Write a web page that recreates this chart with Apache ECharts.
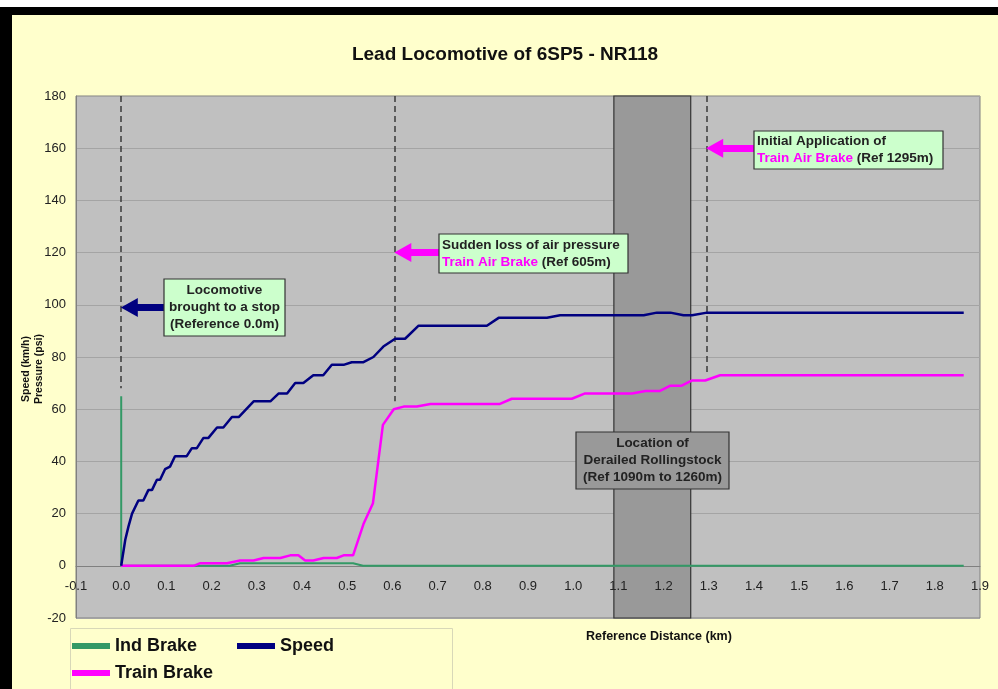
<!DOCTYPE html>
<html><head><meta charset="utf-8">
<script src="https://cdn.jsdelivr.net/npm/echarts@6/dist/echarts.min.js"></script>
<style>html,body{margin:0;padding:0;background:#ffffcc;}#c{width:998px;height:689px;}</style>
</head><body><div id="c"></div>
<script>
// ---- Data ----
const titleText = 'Lead Locomotive of 6SP5 - NR118';
const yAxisName = 'Speed (km/h)\nPressure (psi)';
const xAxisName = 'Reference Distance (km)';
const xTicks = [-0.1,0.0,0.1,0.2,0.3,0.4,0.5,0.6,0.7,0.8,0.9,1.0,1.1,1.2,1.3,1.4,1.5,1.6,1.7,1.8,1.9];
const yTicks = [-20,0,20,40,60,80,100,120,140,160,180];

const speedDist = [0,0.009,0.016,0.024,0.038,0.049,0.06,0.068,0.079,0.086,0.097,0.108,0.119,0.145,0.156,0.167,0.182,0.193,0.212,0.226,0.245,0.26,0.293,0.33,0.348,0.367,0.385,0.403,0.425,0.447,0.466,0.492,0.51,0.536,0.558,0.58,0.606,0.628,0.658,0.809,0.835,0.942,0.971,1.156,1.185,1.215,1.244,1.263,1.296,1.864];
const speedVal  = [0,10,15,20,25,25,29,29,33,33,37,38,42,42,45,45,49,49,53,53,57,57,63,63,66,66,70,70,73,73,77,77,78,78,80,84,87,87,92,92,95,95,96,96,97,97,96,96,97,97];

const trainDist = [0,0.16,0.175,0.234,0.263,0.293,0.315,0.352,0.374,0.392,0.407,0.425,0.448,0.477,0.492,0.513,0.536,0.557,0.579,0.603,0.625,0.654,0.684,0.838,0.864,0.997,1.025,1.13,1.16,1.192,1.215,1.24,1.263,1.292,1.325,1.864];
const trainVal  = [0,0,1,1,2,2,3,3,4,4,2,2,3,3,4,4,16,24,54,60,61,61,62,62,64,64,66,66,67,67,69,69,71,71,73,73];

const indDist = [0,0,0.24,0.263,0.513,0.535,1.864];
const indVal  = [65,0,0,1,1,0,0];

const seriesNames = ['Ind Brake','Speed','Train Brake'];
const bandRange = [1.09, 1.26];             // derailed rollingstock
const refLines = [[0, 68], [0.605, 63], [1.295, 74]]; // x, bottom of dashed line
const arrows = [ // from (box edge) -> to (dashed line), at y
  {from:0.095, to:0.0, y:99, color:'#000080'},
  {from:0.703, to:0.605, y:120, color:'#ff00ff'},
  {from:1.40, to:1.295, y:160, color:'#ff00ff'}
];

const zip = (a,b) => a.map((v,i)=>[v,b[i]]);

const chart = echarts.init(document.getElementById('c'));
const FONT = '"Liberation Sans", Arial, sans-serif';
const legendText = {fontFamily: FONT, fontSize: 18, fontWeight: 'bold', color: '#111'};

const option = {
  backgroundColor: '#ffffcc',
  animation: false,
  title: [
    {text: titleText, left: 500, top: 40, textAlign: 'center',
     textStyle: {fontFamily: FONT, fontSize: 19, fontWeight: 'bold', color: '#111'}},
    {text: xAxisName, left: 581, top: 625,
     textStyle: {fontFamily: FONT, fontSize: 12.5, fontWeight: 'bold', color: '#111'}}
  ],
  grid: {left: 76, right: 18, top: 96, bottom: 71, show: true, containLabel: false, outerBoundsMode: 'none',
         backgroundColor: '#c0c0c0', borderColor: '#808080', borderWidth: 1},
  legend: [
    {data: [seriesNames[0], seriesNames[2]], orient: 'vertical', left: 72, top: 637, padding: 0,
     icon: 'rect', itemWidth: 38, itemHeight: 6, itemGap: 9, textStyle: legendText},
    {data: [seriesNames[1]], orient: 'vertical', left: 237, top: 637, padding: 0,
     icon: 'rect', itemWidth: 38, itemHeight: 6, itemGap: 9, textStyle: legendText}
  ],
  xAxis: {
    type: 'value', min: xTicks[0], max: xTicks[xTicks.length-1], interval: 0.1, z: 10,
    axisLine: {onZero: true, lineStyle: {color: '#808080'}},
    axisTick: {show: false}, splitLine: {show: false},
    axisLabel: {margin: -38, fontFamily: FONT, fontSize: 13, color: '#222',
                showMinLabel: true, showMaxLabel: true, formatter: v => v.toFixed(1)}
  },
  yAxis: {
    type: 'value', min: yTicks[0], max: yTicks[yTicks.length-1], interval: 20,
    axisLine: {show: true, onZero: false, lineStyle: {color: '#808080'}}, axisTick: {show: false},
    splitLine: {lineStyle: {color: '#a4a4a4', width: 1}},
    axisLabel: {margin: 10, fontFamily: FONT, fontSize: 13, color: '#222'}
  },
  series: [
    {name: 'band', type: 'line', data: [], z: 1, silent: true,
     markArea: {silent: true, itemStyle: {color: '#999999', borderColor: '#333', borderWidth: 1.2},
       data: [[{xAxis: bandRange[0], yAxis: 180}, {xAxis: bandRange[1], yAxis: -20}]]},
     markLine: {silent: true, symbol: 'none', label: {show: false},
       lineStyle: {color: '#3a3a3a', type: [6, 4], width: 1.5},
       data: refLines.map(r => [{coord: [r[0], 180]}, {coord: [r[0], r[1]]}])}
    },
    {name: 'Ind Brake', type: 'line', data: zip(indDist, indVal), showSymbol: false, z: 12,
     color: '#339966', lineStyle: {width: 2, color: '#339966'}},
    {name: 'Train Brake', type: 'line', data: zip(trainDist, trainVal), showSymbol: false, z: 12,
     color: '#ff00ff', lineStyle: {width: 2.5, color: '#ff00ff'}},
    {name: 'Speed', type: 'line', data: zip(speedDist, speedVal), showSymbol: false, z: 13,
     color: '#000080', lineStyle: {width: 2.5, color: '#000080'}},
    {name: 'arrows', type: 'line', data: [], z: 14, silent: true,
     markLine: {silent: true, label: {show: false}, symbol: ['none', 'triangle'], symbolSize: [19, 17],
       data: arrows.map(a => [
         {coord: [a.from, a.y], lineStyle: {color: a.color, width: 7, type: 'solid'}},
         {coord: [a.to + 0.018, a.y]}
       ])}
    }
  ]
};
chart.setOption(option);

function px(x, y) { return chart.convertToPixel({gridIndex: 0}, [x, y]); }

function box(x, y, w, h, text, opts) {
  const p = px(x, y);
  return {
    type: 'group', x: Math.round(p[0]), y: Math.round(p[1]), z: 100,
    children: [
      {type: 'rect', z: 100, shape: {x: 0, y: 0, width: w, height: h},
       style: {fill: opts.fill, stroke: '#333', lineWidth: 1.2}},
      {type: 'text', z: 101, x: opts.align === 'center' ? w / 2 : 3, y: h / 2,
       style: {text: text, fill: '#222', font: 'bold 13.5px ' + FONT, lineHeight: 17,
               align: opts.align, verticalAlign: 'middle',
               rich: {m: {fill: '#ff00ff', font: 'bold 13.5px ' + FONT, lineHeight: 17}}}}
    ]
  };
}

chart.setOption({
  graphic: [
    {type: 'rect', shape: {x: 0, y: 0, width: 998, height: 7}, style: {fill: '#ffffff'}, z: 0},
    {type: 'rect', shape: {x: 0, y: 7, width: 998, height: 8}, style: {fill: '#000'}, z: 0},
    {type: 'rect', shape: {x: 0, y: 7, width: 12, height: 682}, style: {fill: '#000'}, z: 0},
    {type: 'rect', shape: {x: 70.5, y: 628.5, width: 382, height: 70}, z: 0,
     style: {fill: '#ffffcc', stroke: '#d8d8b8', lineWidth: 1}},
    {type: 'text', x: 33, y: 369, rotation: Math.PI / 2, z: 5,
     style: {text: yAxisName, font: 'bold 10.5px ' + FONT, fill: '#111', lineHeight: 13,
             align: 'center', verticalAlign: 'middle'}},
    box(0.095, 110, 121, 57, 'Locomotive\nbrought to a stop\n(Reference 0.0m)', {fill: '#ccffcc', align: 'center'}),
    box(0.703, 127.2, 189, 39, 'Sudden loss of air pressure\n{m|Train Air Brake} (Ref 605m)', {fill: '#ccffcc', align: 'left'}),
    box(1.40, 166.6, 189, 38, 'Initial Application of\n{m|Train Air Brake} (Ref 1295m)', {fill: '#ccffcc', align: 'left'}),
    box(1.007, 51.3, 153, 57, 'Location of\nDerailed Rollingstock\n(Ref 1090m to 1260m)', {fill: '#999999', align: 'center'})
  ]
});
</script></body></html>
